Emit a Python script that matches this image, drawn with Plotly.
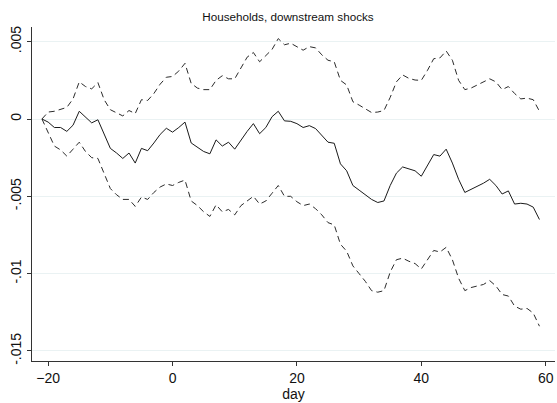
import plotly.graph_objects as go

days = list(range(-21, 60))

# point estimate (in units of 1e-3)
coef = [0, -0.2, -0.55, -0.55, -0.8, -0.4, 0.5, 0.1, -0.25, -0.05,
        -1.0, -1.9, -2.2, -2.55, -2.2, -2.85, -1.9, -2.05, -1.55, -1.0,
        -0.6, -0.85, -0.55, -0.2, -1.55, -1.8, -2.1, -2.25, -1.35, -1.75,
        -1.5, -1.95, -1.35, -0.8, -0.3, -0.95, -0.55, 0.15, 0.5, -0.12,
        -0.15, -0.3, -0.55, -0.43, -0.62, -1.03, -1.5, -1.57, -2.9, -3.35,
        -4.3, -4.6, -4.9, -5.2, -5.4, -5.3, -4.3, -3.5, -3.1, -3.25,
        -3.35, -3.7, -3.0, -2.3, -2.4, -1.95, -2.85, -3.9, -4.75, -4.55,
        -4.4, -4.15, -3.9, -4.3, -4.85, -4.65, -5.5, -5.45, -5.5, -5.7,
        -6.5]

upper = [0, 0.45, 0.5, 0.65, 0.75, 1.3, 2.4, 2.1, 1.95, 2.35,
         1.25, 0.6, 0.4, 0.2, 0.55, 0.35, 1.25, 1.2, 1.65, 2.25,
         2.7, 2.75, 3.1, 3.6, 2.3, 2.0, 1.9, 1.9, 2.5, 2.8,
         2.6, 2.6, 3.3, 4.0, 4.3, 3.7, 4.1, 4.5, 5.2, 4.8,
         4.9, 4.65, 4.45, 4.68, 4.6, 4.15, 3.8, 3.7, 2.5, 2.2,
         1.12, 0.9, 0.65, 0.42, 0.45, 0.55, 1.4, 2.4, 2.85, 2.63,
         2.52, 2.5, 3.15, 3.9, 3.95, 4.4, 3.8, 2.5, 1.9, 2.0,
         2.2, 2.4, 2.6, 2.4, 1.9, 2.1, 1.65, 1.3, 1.35, 1.25,
         0.5]

lower = [0, -0.9, -1.75, -2.0, -2.4, -1.95, -1.5, -2.1, -2.5, -2.55,
         -3.5, -4.5, -4.9, -5.2, -5.2, -5.65, -5.05, -5.2, -4.75, -4.4,
         -4.2, -4.3, -4.1, -3.95, -5.3, -5.6, -6.0, -6.3, -5.55, -6.0,
         -5.85, -6.2, -5.6, -5.3, -5.0, -5.5, -5.3, -4.8, -4.3, -5.0,
         -5.0, -5.35, -5.6, -5.5, -5.8, -6.2, -6.7, -6.85, -8.1, -8.55,
         -9.5, -10.0, -10.5, -11.1, -11.2, -11.1, -9.9, -9.1, -9.0, -9.2,
         -9.35, -9.7, -9.1, -8.5, -8.6, -8.3, -9.1, -10.3, -11.1, -10.9,
         -10.8, -10.7, -10.45, -10.8, -11.35, -11.45, -12.1, -12.3, -12.25, -12.55,
         -13.4]

ytick_vals = [0.005, 0, -0.005, -0.01, -0.015]
ytick_text = [".005", "0", "-.005", "-.01", "-.015"]
xtick_vals = [-20, 0, 20, 40, 60]

scale = 1e-3
fig = go.Figure()
for series, dash in [(upper, "6px,4px"), (lower, "6px,4px"), (coef, "solid")]:
    fig.add_trace(go.Scatter(
        x=days, y=[v * scale for v in series], mode="lines",
        line=dict(color="#1a1a1a" if dash == "solid" else "#2b2b2b",
                  width=1, dash=dash),
        showlegend=False, hoverinfo="skip",
    ))

fig.update_layout(
    width=557, height=403,
    margin=dict(l=32, r=2, t=27, b=42),
    paper_bgcolor="white", plot_bgcolor="white",
    font=dict(family="Liberation Sans, Arial, sans-serif", color="#111111", size=14),
    title=dict(text="Households, downstream shocks", x=0.517, xanchor="center",
               y=0.957, yanchor="middle", font=dict(size=11.7, color="#111111")),
)
fig.update_xaxes(
    range=[-22.6, 61.5], tickvals=xtick_vals, ticks="outside", ticklen=4,
    tickcolor="#333333", showline=True, linecolor="#333333", linewidth=1,
    showgrid=False, zeroline=False, automargin=False,
    title=dict(text="day", standoff=0, font=dict(size=14)),
    tickfont=dict(size=14),
)
fig.update_yaxes(
    range=[-0.01565, 0.00595], tickvals=ytick_vals, ticktext=ytick_text,
    tickangle=-90, ticks="outside", ticklen=4, tickcolor="#333333",
    showline=True, linecolor="#333333", linewidth=1, automargin=False,
    showgrid=True, gridcolor="#eaf2f3", gridwidth=1, zeroline=False,
    tickfont=dict(size=14),
)

fig.write_html("out.html", config={"displayModeBar": False},
               post_script="document.body.style.margin='0';")
